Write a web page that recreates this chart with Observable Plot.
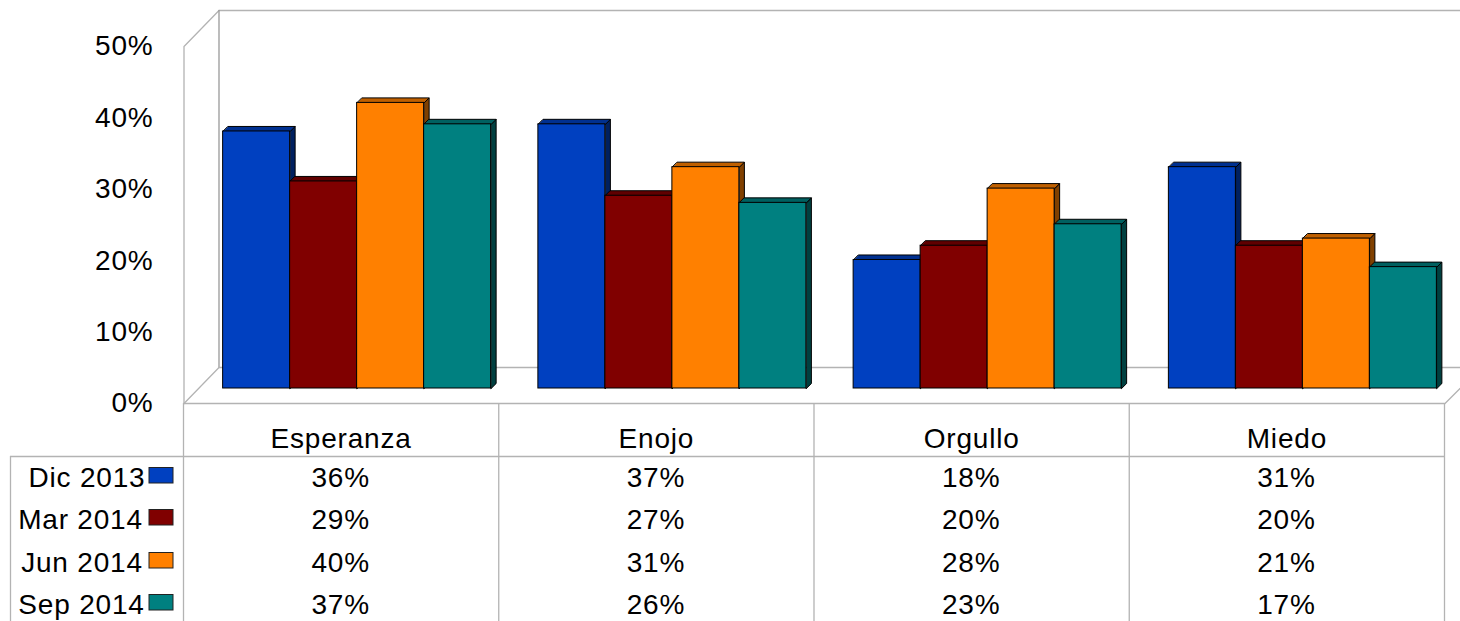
<!DOCTYPE html>
<html><head><meta charset="utf-8">
<style>html,body{margin:0;padding:0;background:#fff;overflow:hidden}svg{display:block}</style>
<script src="https://cdn.jsdelivr.net/npm/d3@7"></script>
<script src="https://cdn.jsdelivr.net/npm/@observablehq/plot@0.6"></script>
</head><body><div id="c"></div>
<script>
const categories = ["Esperanza","Enojo","Orgullo","Miedo"];
const seriesNames = ["Dic 2013","Mar 2014","Jun 2014","Sep 2014"];
const dic2013 = [36,37,18,31];
const mar2014 = [29,27,20,20];
const jun2014 = [40,31,28,21];
const sep2014 = [37,26,23,17];
const seriesValues = [dic2013,mar2014,jun2014,sep2014];
const yTicks = [0,10,20,30,40,50];
const frontColors = ["#0040c0","#800000","#ff8000","#008080"];
const topColors = ["#003090","#600000","#c06000","#006060"];
const sideColors = ["#002060","#400000","#804000","#004040"];

// layout: one category column is 315.25px wide, one percent is 7.14px tall
const W=1460,H=621,colW=315.25,pct=7.14,x0px=184,y0px=403;
const ux=p=>(p-x0px)/colW, uy=p=>(y0px-p)/pct;
const barW=67/colW, gap=(colW-4*67)/2/colW, depthX=5/colW, depthY=5/pct;
const wallX=35/colW, wallY=36/pct;
const grey="#b3b3b3", greyDark="#999999";
const font="'Liberation Sans',Arial,sans-serif";

const marks=[];
const seg=(pts,stroke=grey)=>Plot.line(pts,{x:d=>d[0],y:d=>d[1],stroke,strokeWidth:1.3,dx:-0.5});
const rEdge=ux(W);

// 3D walls and floor
marks.push(seg([[0,0],[0,50],[wallX,50+wallY],[rEdge,50+wallY]]));
marks.push(seg([[wallX,50+wallY],[wallX,wallY]],greyDark));
marks.push(seg([[0,0],[wallX,wallY],[rEdge,wallY]]));
marks.push(seg([[0,0],[4,0],[rEdge,(rEdge-4)*colW/pct]]));

// table grid
const yHead=uy(456), yEnd=uy(621);
marks.push(Plot.ruleX(d3.range(5),{x:d=>d,y1:0,y2:yEnd,stroke:grey,strokeWidth:1.3,dx:-1}));
marks.push(Plot.ruleX([ux(11)],{x:d=>d,y1:yHead,y2:yEnd,stroke:grey,strokeWidth:1.3,dx:-1}));
marks.push(Plot.ruleY([yHead],{y:d=>d,x1:ux(11),x2:4,stroke:grey,strokeWidth:1.3,dx:-1}));

// bars, drawn back to front
seriesValues.forEach((vals,j)=>{
  const rows=vals.map((v,i)=>({i,v,l:i+gap+j*barW,r:i+gap+(j+1)*barW}));
  const side=rows.flatMap(d=>[[d.r,0],[d.r+depthX,depthY],[d.r+depthX,d.v+depthY],[d.r,d.v]].map(p=>({x:p[0],y:p[1],i:d.i})));
  const lid=rows.flatMap(d=>[[d.l,d.v],[d.r,d.v],[d.r+depthX,d.v+depthY],[d.l+depthX,d.v+depthY]].map(p=>({x:p[0],y:p[1],i:d.i})));
  const o={x:"x",y:"y",z:"i",curve:"linear-closed",stroke:"#000",strokeWidth:1,strokeLinejoin:"round",dx:15,dy:-15};
  marks.push(Plot.line(side,{...o,fill:sideColors[j]}));
  marks.push(Plot.line(lid,{...o,fill:topColors[j]}));
  marks.push(Plot.rect(rows,{x1:"l",x2:"r",y1:0,y2:"v",fill:frontColors[j],stroke:"#000",strokeWidth:1,dx:15,dy:-15}));
});

// y axis
marks.push(Plot.axisY(yTicks,{anchor:"left",tickSize:0,tickPadding:0,tickFormat:d=>d+"%",label:null,dx:153,
  fontSize:28,fontFamily:font,fill:"#000"}));

// table text
const txt={frameAnchor:"top",fontSize:28,fontFamily:font,fill:"#000",lineAnchor:"middle"};
marks.push(Plot.text(categories,{...txt,x:(d,i)=>i+0.5,text:d=>d,dy:439,dx:-1}));
const rowY=[478,520,563,605];
const labelX=[86.5,80,81.5,81];
seriesValues.forEach((vals,j)=>{
  marks.push(Plot.text(vals,{...txt,x:(d,i)=>i+0.5,text:d=>d+"%",dy:rowY[j],dx:-1.5}));
  marks.push(Plot.text([seriesNames[j]],{...txt,x:()=>ux(labelX[j]),text:d=>d,dy:rowY[j]}));
  marks.push(Plot.rect([j],{x1:()=>ux(149),x2:()=>ux(173),y1:()=>uy(rowY[j]-10.5),y2:()=>uy(rowY[j]+5),
    fill:frontColors[j],stroke:"#222",strokeWidth:1}));
});

const chart=Plot.plot({width:W,height:H,margin:0,
  x:{domain:[ux(0),ux(W)],range:[0,W],axis:null},
  y:{domain:[uy(H),uy(0)],range:[H,0],axis:null},
  style:{background:"#fff",overflow:"hidden",letterSpacing:"0.8px"},
  marks});
document.getElementById("c").append(chart);
</script></body></html>
